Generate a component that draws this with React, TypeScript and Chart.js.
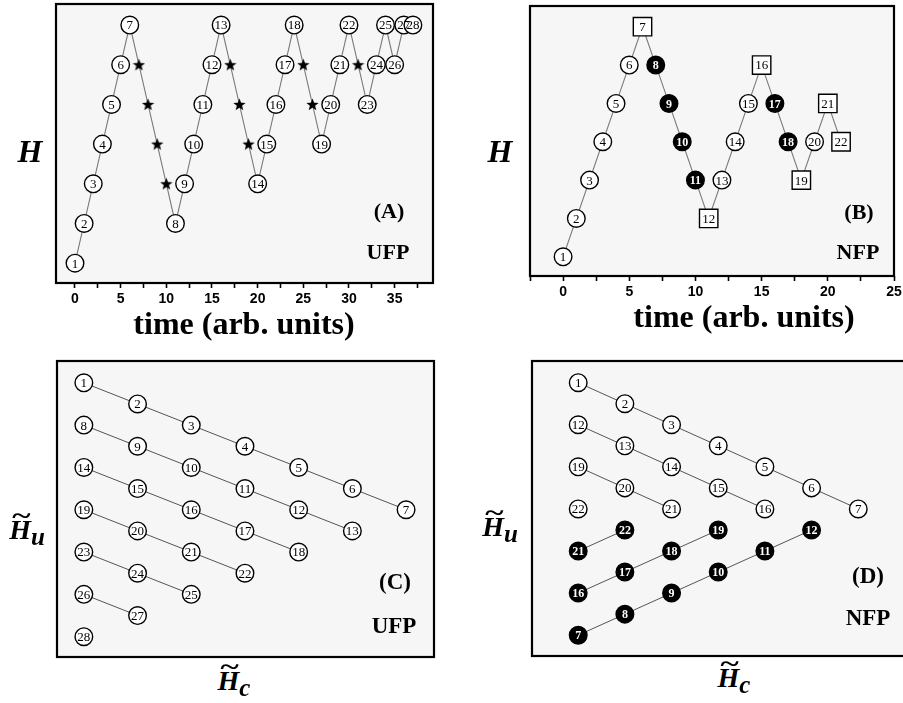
import React, { useEffect, useRef } from 'react';
import { Chart, registerables } from 'chart.js';

Chart.register(...registerables);

// ---------- Panel A (UFP): H versus time ----------
const timeA = [0, 1, 2, 3, 4, 5, 6, 7, 8, 9, 10, 11, 12, 13, 14, 15, 16, 17, 18, 19, 20, 21, 22, 23, 24, 25, 26, 27, 28, 29, 30, 31, 32, 33, 34, 35, 36, 37];
const heightA = [1, 2, 3, 4, 5, 6, 7, 6, 5, 4, 3, 2, 3, 4, 5, 6, 7, 6, 5, 4, 3, 4, 5, 6, 7, 6, 5, 4, 5, 6, 7, 6, 5, 6, 7, 6, 7, 7];
const labelA = ['1', '2', '3', '4', '5', '6', '7', '', '', '', '', '8', '9', '10', '11', '12', '13', '', '', '', '14', '15', '16', '17', '18', '', '', '19', '20', '21', '22', '', '23', '24', '25', '26', '27', '28'];

// ---------- Panel B (NFP): H versus time ----------
const timeB = [0, 1, 2, 3, 4, 5, 6, 7, 8, 9, 10, 11, 12, 13, 14, 15, 16, 17, 18, 19, 20, 21];
const heightB = [1, 2, 3, 4, 5, 6, 7, 6, 5, 4, 3, 2, 3, 4, 5, 6, 5, 4, 3, 4, 5, 4];
const labelB = ['1', '2', '3', '4', '5', '6', '7', '8', '9', '10', '11', '12', '13', '14', '15', '16', '17', '18', '19', '20', '21', '22'];
// o = open circle, s = square, f = filled circle
const kindB = ['o', 'o', 'o', 'o', 'o', 'o', 's', 'f', 'f', 'f', 'f', 's', 'o', 'o', 'o', 's', 'f', 'f', 's', 'o', 's', 's'];

// x tick labels
const ticksA = [0, 5, 10, 15, 20, 25, 30, 35];
const ticksB = [0, 5, 10, 15, 20, 25];

// ---------- Panel C (UFP): Hu versus Hc ----------
const cLine1Hc = [0, 1, 2, 3, 4, 5, 6];
const cLine1Hu = [12, 11, 10, 9, 8, 7, 6];
const cLine1Lab = ['1', '2', '3', '4', '5', '6', '7'];
const cLine2Hc = [0, 1, 2, 3, 4, 5];
const cLine2Hu = [10, 9, 8, 7, 6, 5];
const cLine2Lab = ['8', '9', '10', '11', '12', '13'];
const cLine3Hc = [0, 1, 2, 3, 4];
const cLine3Hu = [8, 7, 6, 5, 4];
const cLine3Lab = ['14', '15', '16', '17', '18'];
const cLine4Hc = [0, 1, 2, 3];
const cLine4Hu = [6, 5, 4, 3];
const cLine4Lab = ['19', '20', '21', '22'];
const cLine5Hc = [0, 1, 2];
const cLine5Hu = [4, 3, 2];
const cLine5Lab = ['23', '24', '25'];
const cLine6Hc = [0, 1];
const cLine6Hu = [2, 1];
const cLine6Lab = ['26', '27'];
const cLine7Hc = [0];
const cLine7Hu = [0];
const cLine7Lab = ['28'];

// ---------- Panel D (NFP): Hu versus Hc ----------
const dOpen1Hc = [0, 1, 2, 3, 4, 5, 6];
const dOpen1Hu = [12, 11, 10, 9, 8, 7, 6];
const dOpen1Lab = ['1', '2', '3', '4', '5', '6', '7'];
const dOpen2Hc = [0, 1, 2, 3, 4];
const dOpen2Hu = [10, 9, 8, 7, 6];
const dOpen2Lab = ['12', '13', '14', '15', '16'];
const dOpen3Hc = [0, 1, 2];
const dOpen3Hu = [8, 7, 6];
const dOpen3Lab = ['19', '20', '21'];
const dOpen4Hc = [0];
const dOpen4Hu = [6];
const dOpen4Lab = ['22'];
const dFill1Hc = [0, 1];
const dFill1Hu = [4, 5];
const dFill1Lab = ['21', '22'];
const dFill2Hc = [0, 1, 2, 3];
const dFill2Hu = [2, 3, 4, 5];
const dFill2Lab = ['16', '17', '18', '19'];
const dFill3Hc = [0, 1, 2, 3, 4, 5];
const dFill3Hu = [0, 1, 2, 3, 4, 5];
const dFill3Lab = ['7', '8', '9', '10', '11', '12'];

// ---------- styling helpers ----------
const SERIF = '"Liberation Serif", "Times New Roman", serif';
const SANS = '"Liberation Sans", Arial, sans-serif';

function makeStar(size: number): HTMLCanvasElement {
  const c = document.createElement('canvas');
  c.width = size;
  c.height = size;
  const g = c.getContext('2d')!;
  const cx = size / 2;
  const cy = size / 2 + 0.5;
  const R = size / 2;
  const r = R * 0.42;
  g.beginPath();
  for (let i = 0; i < 10; i++) {
    const a = -Math.PI / 2 + (i * Math.PI) / 5;
    const rad = i % 2 === 0 ? R : r;
    g.lineTo(cx + rad * Math.cos(a), cy + rad * Math.sin(a));
  }
  g.closePath();
  g.fillStyle = '#000';
  g.fill();
  return c;
}

const numberPlugin = {
  id: 'nums',
  afterDatasetsDraw(chart: any) {
    const ctx = chart.ctx;
    chart.data.datasets.forEach((ds: any, i: number) => {
      const labs = ds.numLabels;
      if (!labs) return;
      const meta = chart.getDatasetMeta(i);
      ctx.save();
      ctx.font = ds.numFont || `13px ${SERIF}`;
      ctx.fillStyle = ds.numColor || '#000';
      ctx.textAlign = 'center';
      ctx.textBaseline = 'middle';
      meta.data.forEach((el: any, j: number) => {
        if (labs[j]) ctx.fillText(labs[j], el.x, el.y + 1);
      });
      ctx.restore();
    });
  },
};

const framePlugin = {
  id: 'frame',
  beforeDraw(chart: any) {
    const { ctx, chartArea: a } = chart;
    ctx.save();
    ctx.fillStyle = '#f6f6f6';
    ctx.fillRect(a.left, a.top, a.right - a.left, a.bottom - a.top);
    ctx.restore();
  },
  afterDraw(chart: any) {
    const { ctx, chartArea: a } = chart;
    ctx.save();
    ctx.strokeStyle = '#000';
    ctx.lineWidth = 2.2;
    ctx.strokeRect(a.left, a.top, a.right - a.left, a.bottom - a.top);
    ctx.restore();
  },
};

function pts(xs: number[], ys: number[]) {
  return xs.map((x, i) => ({ x, y: ys[i] }));
}

function markerSet(xs: number[], ys: number[], labs: string[], kinds: string[], kind: string, style: any) {
  const idx = kinds.map((k, i) => (k === kind ? i : -1)).filter((i) => i >= 0);
  return {
    data: idx.map((i) => ({ x: xs[i], y: ys[i] })),
    numLabels: idx.map((i) => labs[i]),
    showLine: false,
    clip: false,
    order: 0,
    ...style,
  };
}

const openStyle = { pointStyle: 'circle', pointRadius: 8.8, pointBackgroundColor: '#fff', pointBorderColor: '#000', pointBorderWidth: 1.4 };
const filledStyle = { pointStyle: 'circle', pointRadius: 8.8, pointBackgroundColor: '#000', pointBorderColor: '#000', pointBorderWidth: 1.4, numColor: '#fff', numFont: `bold 12px ${SERIF}` };
const squareStyle = { pointStyle: 'rect', pointRadius: 13, pointBackgroundColor: '#fff', pointBorderColor: '#000', pointBorderWidth: 1.4 };

function timeDatasets(xs: number[], ys: number[], labs: string[], kinds: string[], star: HTMLCanvasElement | null) {
  const sets: any[] = [
    { data: pts(xs, ys), showLine: true, pointRadius: 0, borderColor: '#7a7a7a', borderWidth: 1.1, clip: false, order: 5 },
  ];
  sets.push(markerSet(xs, ys, labs, kinds, 'o', openStyle));
  sets.push(markerSet(xs, ys, labs, kinds, 's', squareStyle));
  sets.push(markerSet(xs, ys, labs, kinds, 'f', filledStyle));
  if (star) sets.push(markerSet(xs, ys, labs, kinds, '*', { pointStyle: star, pointRadius: 7 }));
  return sets;
}

function lineSet(xs: number[], ys: number[], labs: string[], filled: boolean) {
  return {
    data: pts(xs, ys),
    numLabels: labs,
    showLine: true,
    borderColor: '#555',
    borderWidth: 1,
    clip: false,
    ...(filled ? filledStyle : openStyle),
  };
}

type PanelProps = {
  box: [number, number, number, number];
  xRange: [number, number];
  yRange: [number, number];
  axis: boolean;
  tickValues?: number[];
  datasets: () => any[];
};

const PADX = 20;
const PADY = 4;
const AXIS_H = 28;

function Panel({ box, xRange, yRange, axis, tickValues, datasets }: PanelProps) {
  const ref = useRef<HTMLCanvasElement | null>(null);
  const [l, t, r, b] = box;
  const width = r - l + 2 * PADX;
  const height = b - t + PADY + (axis ? AXIS_H : PADY);

  useEffect(() => {
    if (!ref.current) return;
    const xScale: any = {
      type: 'linear',
      min: xRange[0],
      max: xRange[1],
      display: axis,
      position: 'bottom',
      border: { display: false },
      grid: { display: true, drawOnChartArea: false, drawTicks: true, tickLength: 5, tickColor: '#000', tickWidth: 1.6 },
      ticks: {
        stepSize: 2.5,
        includeBounds: false,
        autoSkip: false,
        maxRotation: 0,
        padding: 3,
        color: '#000',
        font: { family: SANS, weight: 'bold', size: 14 },
        callback: (v: any) => (tickValues && tickValues.includes(Number(v)) ? String(v) : ''),
      },
    };
    if (axis) {
      xScale.afterFit = (s: any) => {
        s.height = AXIS_H;
      };
    }
    const chart = new Chart(ref.current, {
      type: 'scatter',
      data: { datasets: datasets() },
      options: {
        animation: false,
        responsive: false,
        maintainAspectRatio: false,
        events: [],
        layout: { autoPadding: false, padding: { left: PADX, right: PADX, top: PADY, bottom: axis ? 0 : PADY } },
        plugins: { legend: { display: false }, tooltip: { enabled: false } },
        scales: {
          x: xScale,
          y: { type: 'linear', min: yRange[0], max: yRange[1], display: false },
        },
      } as any,
      plugins: [framePlugin, numberPlugin],
    });
    return () => chart.destroy();
  }, []);

  return (
    <canvas
      ref={ref}
      width={width}
      height={height}
      style={{ position: 'absolute', left: l - PADX, top: t - PADY, width, height }}
    />
  );
}

function Txt({ cx, cy, size, italic, children }: any) {
  return (
    <div
      style={{
        position: 'absolute',
        left: cx,
        top: cy,
        transform: 'translate(-50%, -50%)',
        font: `${italic ? 'italic ' : ''}bold ${size}px ${SERIF}`,
        lineHeight: 1,
        whiteSpace: 'nowrap',
        color: '#000',
      }}
    >
      {children}
    </div>
  );
}

// H with a wide tilde above it and an italic subscript
function HT({ cx, cy, sub }: any) {
  return (
    <Txt cx={cx} cy={cy} size={28} italic>
      <span style={{ position: 'relative', display: 'inline-block' }}>
        H
        <span
          style={{
            position: 'absolute',
            left: 3,
            top: -13,
            fontSize: 26,
            fontStyle: 'normal',
            transform: 'scaleX(1.35)',
            transformOrigin: 'left center',
          }}
        >
          ~
        </span>
      </span>
      <span style={{ fontSize: 25, position: 'relative', top: 6 }}>{sub}</span>
    </Txt>
  );
}

export default function App() {
  const star = typeof document !== 'undefined' ? makeStar(13) : null;
  const kindA = labelA.map((s) => (s === '' ? '*' : 'o'));
  return (
    <div style={{ position: 'absolute', left: 0, top: 0, width: 903, height: 703, overflow: 'hidden', background: '#fff' }}>
      <Panel
        box={[56, 4, 433, 283]}
        xRange={[-2.08, 39.2]}
        yRange={[0.5, 7.53]}
        axis
        tickValues={ticksA}
        datasets={() => timeDatasets(timeA, heightA, labelA, kindA, star)}
      />
      <Panel
        box={[530, 6, 894, 276]}
        xRange={[-2.5, 25]}
        yRange={[0.5, 7.54]}
        axis
        tickValues={ticksB}
        datasets={() => timeDatasets(timeB, heightB, labelB, kindB, null)}
      />
      <Panel
        box={[57, 361, 434, 657]}
        xRange={[-0.5, 6.52]}
        yRange={[-0.96, 13.03]}
        axis={false}
        datasets={() => [
          lineSet(cLine1Hc, cLine1Hu, cLine1Lab, false),
          lineSet(cLine2Hc, cLine2Hu, cLine2Lab, false),
          lineSet(cLine3Hc, cLine3Hu, cLine3Lab, false),
          lineSet(cLine4Hc, cLine4Hu, cLine4Lab, false),
          lineSet(cLine5Hc, cLine5Hu, cLine5Lab, false),
          lineSet(cLine6Hc, cLine6Hu, cLine6Lab, false),
          lineSet(cLine7Hc, cLine7Hu, cLine7Lab, false),
        ]}
      />
      <Panel
        box={[532, 361, 918, 656]}
        xRange={[-0.99, 7.28]}
        yRange={[-0.99, 13.03]}
        axis={false}
        datasets={() => [
          lineSet(dOpen1Hc, dOpen1Hu, dOpen1Lab, false),
          lineSet(dOpen2Hc, dOpen2Hu, dOpen2Lab, false),
          lineSet(dOpen3Hc, dOpen3Hu, dOpen3Lab, false),
          lineSet(dOpen4Hc, dOpen4Hu, dOpen4Lab, false),
          lineSet(dFill1Hc, dFill1Hu, dFill1Lab, true),
          lineSet(dFill2Hc, dFill2Hu, dFill2Lab, true),
          lineSet(dFill3Hc, dFill3Hu, dFill3Lab, true),
        ]}
      />

      <Txt cx={30} cy={151} size={32} italic>H</Txt>
      <Txt cx={500} cy={151} size={32} italic>H</Txt>
      <Txt cx={244} cy={323} size={32}>time (arb. units)</Txt>
      <Txt cx={744} cy={316} size={32}>time (arb. units)</Txt>

      <HT cx={27} cy={530} sub="u" />
      <HT cx={234} cy={681} sub="c" />
      <HT cx={500} cy={527} sub="u" />
      <HT cx={734} cy={678} sub="c" />

      <Txt cx={389} cy={211} size={22}>(A)</Txt>
      <Txt cx={388} cy={252} size={22}>UFP</Txt>
      <Txt cx={859} cy={212} size={22}>(B)</Txt>
      <Txt cx={858} cy={252} size={22}>NFP</Txt>
      <Txt cx={395} cy={581} size={23}>(C)</Txt>
      <Txt cx={394} cy={625} size={23}>UFP</Txt>
      <Txt cx={868} cy={575} size={23}>(D)</Txt>
      <Txt cx={868} cy={617} size={23}>NFP</Txt>
    </div>
  );
}
